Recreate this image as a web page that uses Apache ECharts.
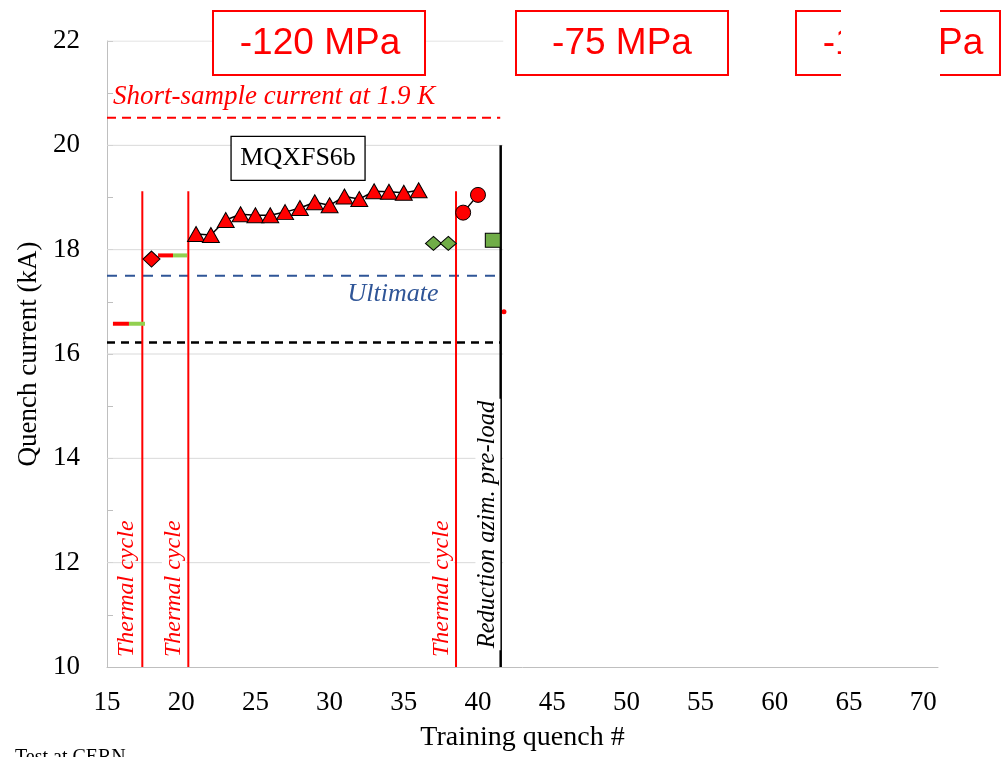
<!DOCTYPE html>
<html><head><meta charset="utf-8">
<script src="https://cdn.jsdelivr.net/npm/echarts@6/dist/echarts.min.js"></script>
<style>html,body{margin:0;padding:0;background:#fff}#c{width:1001px;height:757px}</style>
</head><body><div id="c"></div>
<script>
// ---- data ----
const xTicks = [15, 20, 25, 30, 35, 40, 45, 50, 55, 60, 65, 70];
const yTicks = [10, 12, 14, 16, 18, 20, 22];
const triX = [21, 22, 23, 24, 25, 26, 27, 28, 29, 30, 31, 32, 33, 34, 35, 36];
const triY = [18.30, 18.28, 18.57, 18.68, 18.66, 18.66, 18.72, 18.80, 18.91, 18.85, 19.02, 18.97, 19.12, 19.11, 19.09, 19.14];
const redDiamondX = [18];
const redDiamondY = [17.82];
const greenDiamondX = [37, 38];
const greenDiamondY = [18.12, 18.12];
const circleX = [39, 40];
const circleY = [18.71, 19.05];
const squareX = [41];
const squareY = [18.18];
const smallRedX = [41.75];
const smallRedY = [16.81];
const segStartX = [15.40, 18.44];
const segMidX = [16.48, 19.45];
const segEndX = [17.56, 20.39];
const segY = [16.58, 17.89];
const thermalX = [17.38, 20.48, 38.52];
const thermalTop = 19.12;
const preloadX = 41.53;
const preloadTop = 20;
const shortSampleY = 20.53;
const ultimateY = 17.5;
const nominalY = 16.22;
const refLineEnd = 41.5;
const gridEnd = 41.7;
const pressureLabels = ['-120 MPa', '-75 MPa', '-100 MPa'];

const SERIF = '"Liberation Serif", "Times New Roman", serif';
const SANS = '"Liberation Sans", Arial, sans-serif';
const RED = '#FF0000';
const GREEN = '#70AD47';
const LGREEN = '#92D050';
const BLUE = '#2F5597';

const zip = (xs, ys) => xs.map((x, i) => [x, ys[i]]);

const series = [];
// gridlines (only in the left part of the plot)
yTicks.filter(v => v > 10).forEach(v => {
  series.push({type: 'line', data: [[15, v], [gridEnd, v]], symbol: 'none', silent: true, z: 1,
    lineStyle: {color: '#D9D9D9', width: 1}});
});
// reference dashed lines
[[shortSampleY, RED, 2, [9, 6]], [ultimateY, BLUE, 2, [10, 8]], [nominalY, '#000', 2.5, [8, 6]]].forEach(r => {
  series.push({type: 'line', data: [[15, r[0]], [refLineEnd, r[0]]], symbol: 'none', silent: true, z: 2,
    lineStyle: {color: r[1], width: r[2], type: r[3]}});
});
// vertical event lines
thermalX.forEach(x => {
  series.push({type: 'line', data: [[x, 10], [x, thermalTop]], symbol: 'none', silent: true, z: 3,
    lineStyle: {color: RED, width: 2}});
});
series.push({type: 'line', data: [[preloadX, 10], [preloadX, preloadTop]], symbol: 'none', silent: true, z: 3,
  lineStyle: {color: '#000', width: 2.5}});
// short red/green segments
segY.forEach((y, i) => {
  series.push({type: 'line', data: [[segStartX[i], y], [segMidX[i], y]], symbol: 'none', z: 4,
    lineStyle: {color: RED, width: 4}});
  series.push({type: 'line', data: [[segMidX[i], y], [segEndX[i], y]], symbol: 'none', z: 4,
    lineStyle: {color: LGREEN, width: 4}});
});
// triangles
series.push({type: 'line', data: zip(triX, triY), symbol: 'triangle', symbolSize: [17, 15], z: 6,
  lineStyle: {color: '#000', width: 1.5},
  itemStyle: {color: RED, borderColor: '#000', borderWidth: 1}});
// red diamond
series.push({type: 'scatter', data: zip(redDiamondX, redDiamondY), symbol: 'diamond', symbolSize: [17, 16], z: 6,
  itemStyle: {color: RED, borderColor: '#000', borderWidth: 1, opacity: 1}});
// green diamonds
series.push({type: 'scatter', data: zip(greenDiamondX, greenDiamondY), symbol: 'diamond', symbolSize: [16, 14], z: 6,
  itemStyle: {color: GREEN, borderColor: '#000', borderWidth: 1, opacity: 1}});
// circles
series.push({type: 'line', data: zip(circleX, circleY), symbol: 'circle', symbolSize: 15, showAllSymbol: true, z: 6,
  lineStyle: {color: '#000', width: 1.5},
  itemStyle: {color: RED, borderColor: '#000', borderWidth: 1}});
// square
series.push({type: 'scatter', data: zip(squareX, squareY), symbol: 'rect', symbolSize: [15, 14], z: 6,
  itemStyle: {color: GREEN, borderColor: '#000', borderWidth: 1, opacity: 1}});
// small red mark
series.push({type: 'scatter', data: zip(smallRedX, smallRedY), symbol: 'circle', symbolSize: 5, z: 2,
  itemStyle: {color: RED, opacity: 1}});

const chart = echarts.init(document.getElementById('c'), null, {renderer: 'canvas'});
chart.setOption({
  animation: false,
  backgroundColor: '#fff',
  grid: {left: 107, top: 41, width: 831, height: 633, containLabel: false},
  xAxis: {
    type: 'value', min: 15, max: 71, interval: 5,
    axisLine: {show: true, lineStyle: {color: '#BFBFBF', width: 1}},
    axisTick: {show: false}, splitLine: {show: false},
    axisLabel: {formatter: v => (xTicks.indexOf(v) >= 0 ? String(v) : ''), fontSize: 27, fontFamily: SERIF, color: '#000', margin: 22},
    name: 'Training quench #', nameLocation: 'middle', nameGap: 57,
    nameTextStyle: {fontSize: 28, fontFamily: SERIF, color: '#000'}
  },
  yAxis: {
    type: 'value', min: 10, max: 22, interval: 2,
    axisLine: {show: true, lineStyle: {color: '#BFBFBF', width: 1}},
    axisTick: {show: true, inside: true, length: 6, lineStyle: {color: '#BFBFBF'}},
    minorTick: {show: true, splitNumber: 2, length: 6, lineStyle: {color: '#BFBFBF'}},
    splitLine: {show: false},
    axisLabel: {formatter: v => (yTicks.indexOf(v) >= 0 ? String(v) : ''), fontSize: 27, fontFamily: SERIF, color: '#000', margin: 27},
    name: 'Quench current (kA)', nameLocation: 'middle', nameGap: 56, nameRotate: 90,
    nameTextStyle: {fontSize: 27, fontFamily: SERIF, color: '#000'}
  },
  series: series
});

const px = (x, y) => chart.convertToPixel({gridIndex: 0}, [x, y]);
const g = [];
// in-plot annotations positioned through the axes
const ss = px(15.4, 20.92);
g.push({type: 'text', z: 100, x: ss[0], y: ss[1], style: {text: 'Short-sample current at 1.9 K', fill: RED,
  font: 'italic 27px ' + SERIF, textAlign: 'left', textVerticalAlign: 'middle'}});
const ul = px(34.27, 17.15);
g.push({type: 'text', z: 100, x: ul[0], y: ul[1], style: {text: 'Ultimate', fill: BLUE,
  font: 'italic 26px ' + SERIF, textAlign: 'center', textVerticalAlign: 'middle'}});
const b1 = px(23.36, 20.17), b2 = px(32.39, 19.33);
g.push({type: 'rect', z: 100, shape: {x: b1[0], y: b1[1], width: b2[0] - b1[0], height: b2[1] - b1[1]},
  style: {fill: '#fff', stroke: '#000', lineWidth: 1.3}});
g.push({type: 'text', z: 101, x: (b1[0] + b2[0]) / 2, y: (b1[1] + b2[1]) / 2, style: {text: 'MQXFS6b', fill: '#000',
  font: '26px ' + SERIF, textAlign: 'center', textVerticalAlign: 'middle'}});
[[16.34, false], [19.51, true], [37.57, true]].forEach(t => {
  const p = px(t[0], 11.5);
  g.push({type: 'text', z: 100, x: p[0], y: p[1], rotation: Math.PI / 2, style: {text: 'Thermal cycle', fill: RED,
    font: 'italic 24px ' + SERIF, textAlign: 'center', textVerticalAlign: 'middle',
    backgroundColor: t[1] ? '#fff' : 'transparent', padding: [0, 2]}});
});
const rp = px(40.67, 12.73);
g.push({type: 'text', z: 100, x: rp[0], y: rp[1], rotation: Math.PI / 2, style: {text: 'Reduction azim. pre-load', fill: '#000',
  font: 'italic 24.5px ' + SERIF, textAlign: 'center', textVerticalAlign: 'middle', backgroundColor: '#fff', padding: [0, 2]}});
// pressure boxes (page layout above the plot)
[[213, 212, 320], [516, 212, 622], [796, 204, 903]].forEach((b, i) => {
  g.push({type: 'rect', z: 110, shape: {x: b[0], y: 11, width: b[1], height: 64},
    style: {fill: '#fff', stroke: RED, lineWidth: 2}});
  g.push({type: 'text', z: 111, x: b[2], y: 44, style: {text: pressureLabels[i], fill: RED,
    font: '37px ' + SANS, textAlign: 'center', textVerticalAlign: 'middle'}});
});
g.push({type: 'rect', z: 120, shape: {x: 841, y: 0, width: 99, height: 85}, style: {fill: '#fff'}});
g.push({type: 'text', z: 100, x: 15, y: 748, style: {text: 'Test at CERN', fill: '#000',
  font: '20px ' + SERIF, textAlign: 'left', textVerticalAlign: 'top'}});
chart.setOption({graphic: {elements: g}});
</script></body></html>
